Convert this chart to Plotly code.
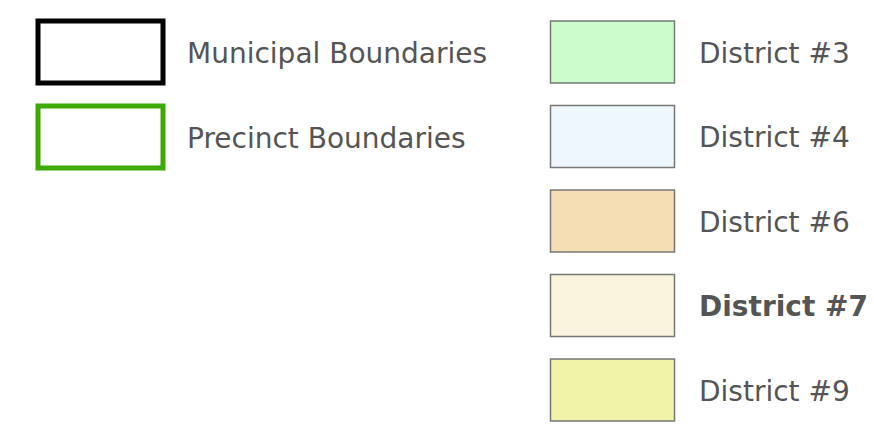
import plotly.graph_objects as go

boundary_labels = ["Municipal Boundaries", "Precinct Boundaries"]
boundary_colors = ["#000000", "#3DAA00"]

district_labels = ["District #3", "District #4", "District #6", "District #7", "District #9"]
district_colors = ["#CCFCCC", "#EEF6FE", "#F5DEB3", "#FAF3DD", "#F0F3A8"]
district_bold = [False, False, False, True, False]

W, H = 874, 437
fig = go.Figure()

shapes = []
annotations = []
row_step = 85

# boundary outline swatches
for i, (lab, col) in enumerate(zip(boundary_labels, boundary_colors)):
    y0 = 21 + i * row_step
    shapes.append(dict(type="rect", xref="x", yref="y", x0=38, x1=163, y0=y0, y1=y0 + 62,
                       line=dict(color=col, width=5), fillcolor="rgba(0,0,0,0)"))
    annotations.append(dict(x=185, y=y0 + 32, xref="x", yref="y", text=lab, showarrow=False,
                            xanchor="left", yanchor="middle",
                            font=dict(family="DejaVu Sans", size=28, color="#555555")))

# district fill swatches
for i, (lab, col, b) in enumerate(zip(district_labels, district_colors, district_bold)):
    y0 = 21 + i * 84.5
    shapes.append(dict(type="rect", xref="x", yref="y", x0=550.5, x1=674.5, y0=y0, y1=y0 + 62,
                       line=dict(color="#777777", width=1.5), fillcolor=col))
    txt = f"<b>{lab}</b>" if b else lab
    annotations.append(dict(x=697, y=y0 + 32, xref="x", yref="y", text=txt, showarrow=False,
                            xanchor="left", yanchor="middle",
                            font=dict(family="DejaVu Sans", size=28, color="#555555")))

fig.update_layout(
    width=W, height=H,
    margin=dict(l=0, r=0, t=0, b=0),
    paper_bgcolor="white", plot_bgcolor="white",
    xaxis=dict(range=[0, W], visible=False, fixedrange=True),
    yaxis=dict(range=[H, 0], visible=False, fixedrange=True),
    shapes=shapes, annotations=annotations, showlegend=False,
)
fig.write_html("out.html", config={"displayModeBar": False},
               post_script="document.body.style.margin='0';document.body.style.overflow='hidden';")
